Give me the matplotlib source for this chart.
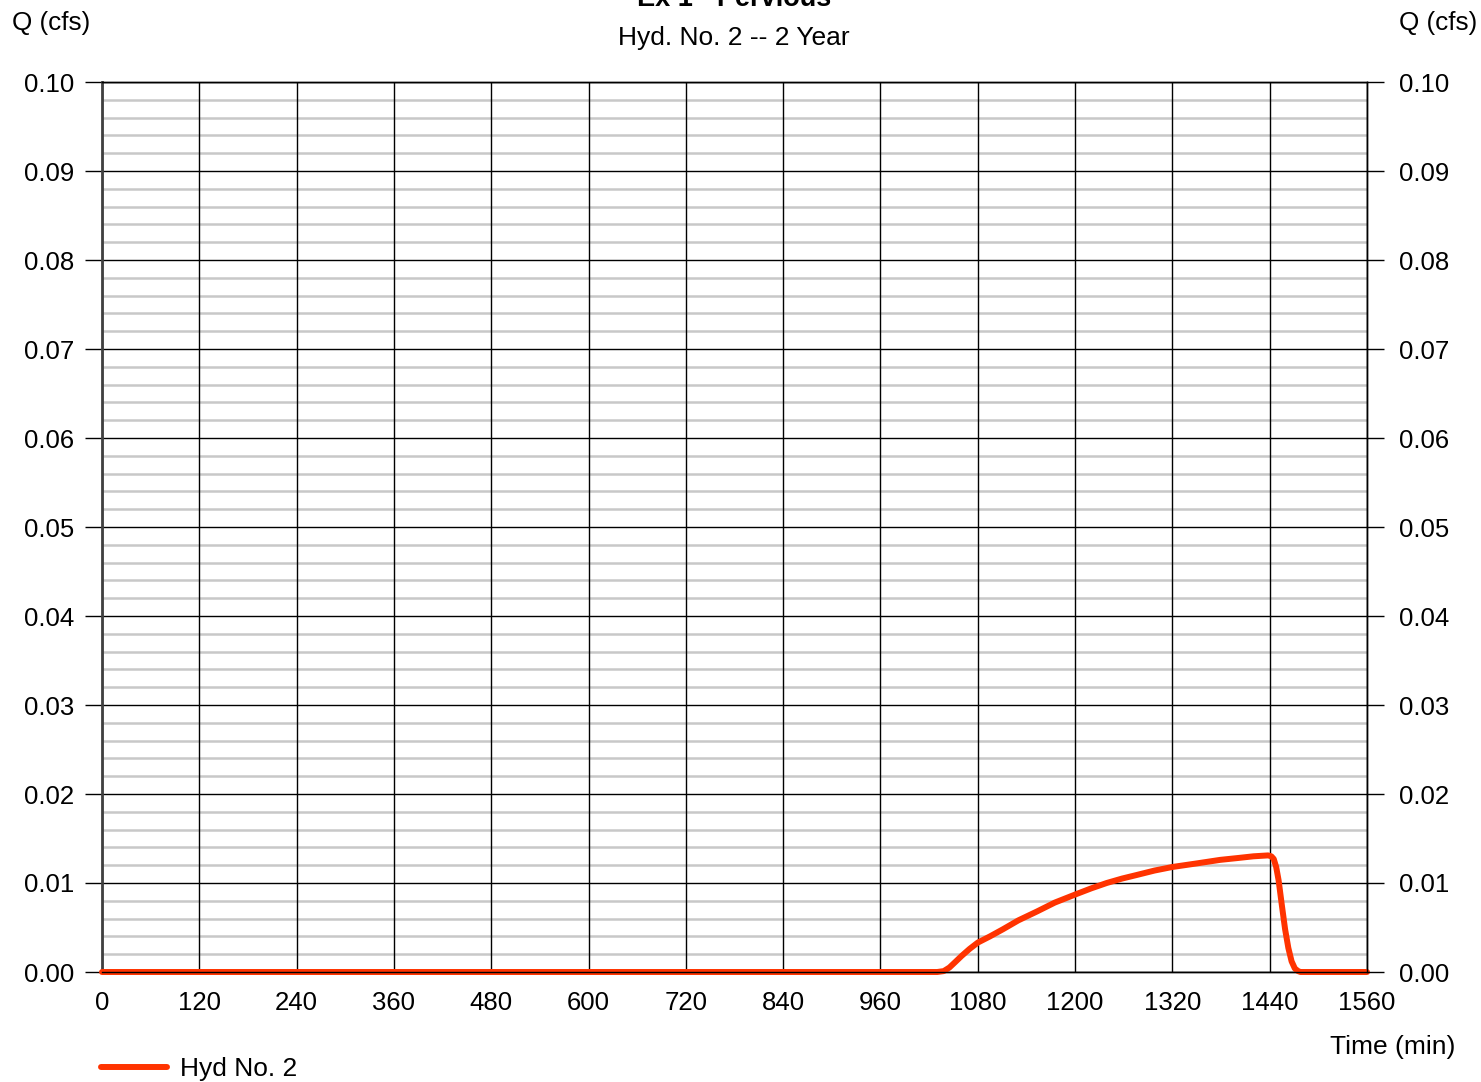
import matplotlib
matplotlib.use("Agg")
import matplotlib.pyplot as plt
import numpy as np

plt.rcParams['font.family'] = ['Liberation Sans', 'DejaVu Sans']

time_min = [0, 1000, 1030, 1038, 1045, 1052, 1060, 1070, 1080, 1095, 1111, 1130, 1153,
            1175, 1200, 1220, 1239, 1258, 1276, 1298, 1320, 1350, 1379, 1400, 1420,
            1438, 1442, 1445, 1448, 1451, 1455, 1459, 1463, 1467, 1471, 1475, 1478, 1560]
flow_cfs = [0.0, 0.0, 0.0, 0.0001, 0.0005, 0.0011, 0.0018, 0.0026, 0.0033, 0.0040,
            0.0048, 0.0058, 0.0068, 0.0078, 0.0087, 0.0094, 0.0100, 0.0105, 0.0109,
            0.0114, 0.0118, 0.0122, 0.0126, 0.0128, 0.0130, 0.0131, 0.0130, 0.0127,
            0.0118, 0.0103, 0.0075, 0.0048, 0.0027, 0.0012, 0.0004, 0.0001, 0.0, 0.0]

x_ticks = list(range(0, 1561, 120))
y_ticks = [0.00, 0.01, 0.02, 0.03, 0.04, 0.05, 0.06, 0.07, 0.08, 0.09, 0.10]
y_minor = [round(v, 3) for v in np.arange(0, 0.1001, 0.002)]

title = "Ex 1 - Pervious"
subtitle = "Hyd. No. 2 -- 2 Year"
series_label = "Hyd No. 2"

fig = plt.figure(figsize=(14.81, 10.82), dpi=100)
ax = fig.add_axes([102/1481, 1-972/1082, (1367-102)/1481, (972-82)/1082])

ax.set_xlim(0, 1560)
ax.set_ylim(0, 0.10)

major_set = [round(t, 3) for t in y_ticks]
for v in y_minor:
    if v not in major_set:
        ax.axhline(v, color='#c8c8c8', lw=1.8, zorder=1)
for v in y_ticks:
    ax.axhline(v, color='black', lw=1.0, zorder=2)
for v in x_ticks:
    ax.axvline(v, color='black', lw=1.0, zorder=2)

line, = ax.plot(time_min, flow_cfs, color='#FF3300', lw=4.3, solid_capstyle='round',
                solid_joinstyle='round', zorder=5, clip_on=False)

ax.set_xticks(x_ticks)
ax.set_xticklabels([str(t) for t in x_ticks])
ax.set_yticks(y_ticks)
ax.set_yticklabels([f"{t:.2f}" for t in y_ticks])
ax.tick_params(axis='x', length=0, pad=14, labelsize=18.5)
ax.tick_params(axis='y', length=12, width=1.0, pad=8, labelsize=18.5,
               left=True, right=False, labelleft=True, labelright=False)

ax2 = ax.twinx()
ax2.set_ylim(0, 0.10)
ax2.set_yticks(y_ticks)
ax2.set_yticklabels([f"{t:.2f}" for t in y_ticks])
ax2.tick_params(axis='y', length=12, width=1.0, pad=11, labelsize=18.5)

for a in (ax, ax2):
    for s in a.spines.values():
        s.set_color('black')
        s.set_linewidth(1.0)
ax.spines['left'].set_color('#404040')
ax.spines['left'].set_linewidth(2.0)
ax2.spines['left'].set_visible(False)

fig.text(734/1481, 1-6/1082, title, ha='center', va='baseline', fontsize=19.5, fontweight='bold')
fig.text(734/1481, 1-38/1082, subtitle, ha='center', va='center', fontsize=19)
fig.text(12/1481, 1-23/1082, "Q (cfs)", ha='left', va='center', fontsize=18.8)
fig.text(1477/1481, 1-23/1082, "Q (cfs)", ha='right', va='center', fontsize=18.8)
fig.text(1455/1481, 1-1047/1082, "Time (min)", ha='right', va='center', fontsize=19)

fig.legend([line], [series_label], loc='center left', bbox_to_anchor=(101/1481, 1-1069/1082),
           frameon=False, fontsize=19, handlelength=2.5, handletextpad=0.5,
           borderaxespad=0, borderpad=0)

fig.savefig("out.png", dpi=100)
